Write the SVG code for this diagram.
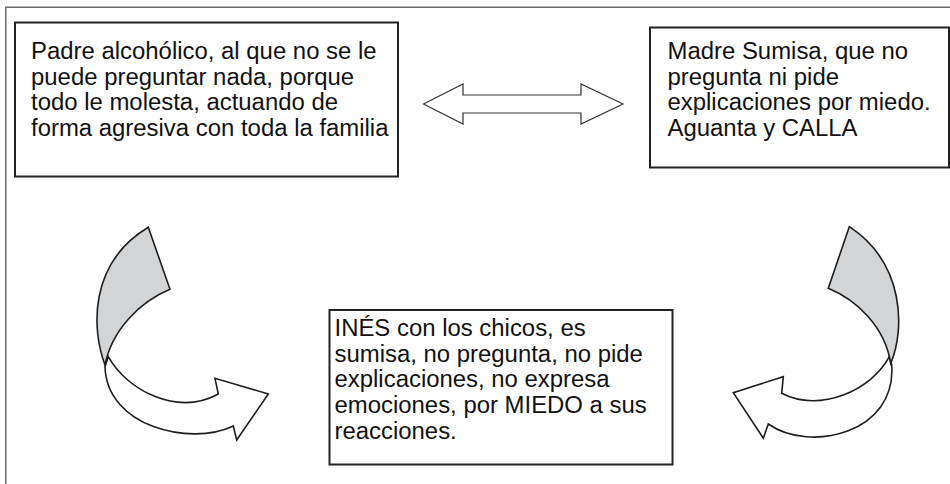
<svg xmlns="http://www.w3.org/2000/svg" width="950" height="484" viewBox="0 0 950 484">
<style>
.frame{fill:none;stroke:#6b6b6b;stroke-width:1.5}
.box{fill:#fff;stroke:#222;stroke-width:2}
.t{font-family:"Liberation Sans",Arial,sans-serif;font-size:23px;fill:#111}
.arr{fill:#fff;stroke:#333;stroke-width:1.2;stroke-linejoin:miter}
.cw{fill:#fff;stroke:#1e1e1e;stroke-width:1.6;stroke-linejoin:miter}
.cg{fill:#d3d4d6;stroke:#1e1e1e;stroke-width:1.6;stroke-linejoin:miter}
</style>
<rect width="950" height="484" fill="#fff"/>
<path class="frame" d="M5.75,484 V7.25 H950"/>
<g id="connectors">
<polygon class="arr" points="423.5,104 463,84 463,95 581,95 581,84 623,104 581,124 581,113 463,113 463,124"/>
<g id="curve-left">
<path class="cw" d="M108.3,356.7 C126.7,390 176.7,416.7 218.3,394 L215,378.3 L268.3,394 L236.7,440 L233.3,426 C190,446.7 106.7,426.7 105,366.7 Z"/>
<path class="cg" d="M148.3,227.3 L170,289.3 C140,301.7 111.7,330 105,365 C91.7,330 88.3,263.3 148.3,227.3 Z"/>
</g>
<g id="curve-right">
<path class="cw" d="M889.3,356.7 C871.7,390 820,413.3 781.7,393.3 L783.3,376.7 L733.3,392.7 L763.3,438.3 L768.3,424 C810,453.3 896.7,433.3 891.7,365 Z"/>
<path class="cg" d="M849.3,226.7 L828.3,288.3 C856.7,300 885,326.7 890.7,363.3 C905,330 905,263.3 849.3,226.7 Z"/>
</g>
</g>
<g id="node-padre">
<rect class="box" x="15" y="22.5" width="383" height="154"/>
<text class="t" transform="translate(31,0) scale(1.04,1)">
<tspan x="0" y="59">Padre alcohólico, al que no se le</tspan>
<tspan x="0" y="84.7">puede preguntar nada, porque</tspan>
<tspan x="0" y="110.3">todo le molesta, actuando de</tspan>
<tspan x="0" y="136">forma agresiva con toda la familia</tspan>
</text>
</g>
<g id="node-madre">
<rect class="box" x="650" y="27.5" width="299" height="140"/>
<text class="t" transform="translate(667.5,0) scale(1.04,1)">
<tspan x="0" y="59">Madre Sumisa, que no</tspan>
<tspan x="0" y="84.7">pregunta ni pide</tspan>
<tspan x="0" y="110.3">explicaciones por miedo.</tspan>
<tspan x="0" y="136">Aguanta y CALLA</tspan>
</text>
</g>
<g id="node-ines">
<rect class="box" x="329.5" y="310" width="343" height="154.5"/>
<text class="t" transform="translate(334.5,0) scale(1.04,1)">
<tspan x="0" y="336">INÉS con los chicos, es</tspan>
<tspan x="0" y="361.7">sumisa, no pregunta, no pide</tspan>
<tspan x="0" y="387.3">explicaciones, no expresa</tspan>
<tspan x="0" y="413">emociones, por MIEDO a sus</tspan>
<tspan x="0" y="438.7">reacciones.</tspan>
</text>
</g>
</svg>
